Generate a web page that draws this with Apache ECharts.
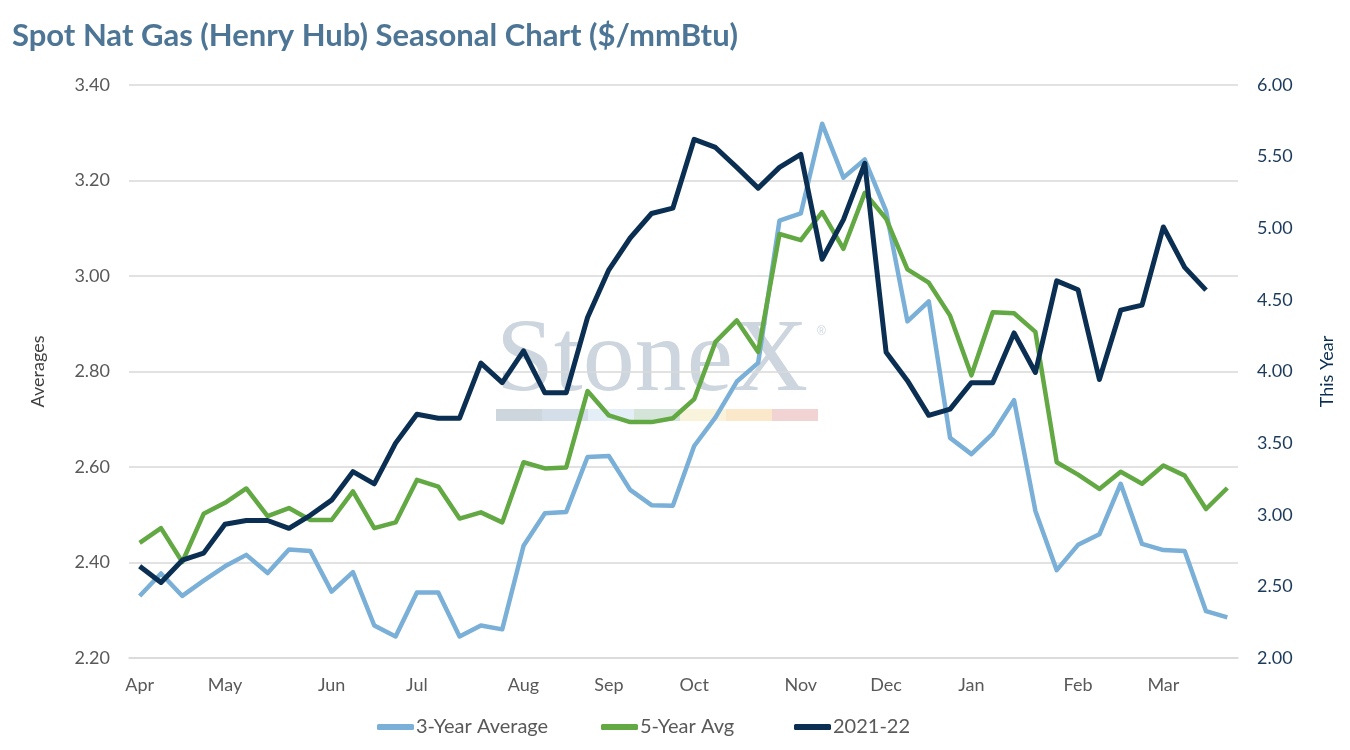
<!DOCTYPE html>
<html>
<head>
<meta charset="utf-8">
<title>Spot Nat Gas Seasonal Chart</title>
<script src="https://cdn.jsdelivr.net/npm/echarts@6/dist/echarts.min.js"></script>
<style>
  html, body { margin: 0; padding: 0; background: #fff; }
  #chart-div { width: 1350px; height: 750px; }
</style>
</head>
<body>
<div id="chart-div"></div>
<script>
// weekly points, season starting early April; only the first week of each month carries a label
const weeks = [
    'Apr', '', '', '', 'May', '', '', '', '', 'Jun', '', '', '', 'Jul', '', '', '', '', 'Aug', '', '', '',
    'Sep', '', '', '', 'Oct', '', '', '', '', 'Nov', '', '', '', 'Dec', '', '', '', 'Jan', '', '', '', '',
    'Feb', '', '', '', 'Mar', '', '', ''
]

const threeYear = [
    2.330, 2.377, 2.330, 2.362, 2.392, 2.416, 2.378, 2.427, 2.424, 2.339, 2.380, 2.268, 2.245,
    2.337, 2.337, 2.245, 2.268, 2.260, 2.435, 2.503, 2.506, 2.621, 2.623, 2.552, 2.520, 2.519,
    2.644, 2.704, 2.779, 2.818, 3.116, 3.131, 3.319, 3.206, 3.244, 3.136, 2.905, 2.947, 2.661,
    2.627, 2.670, 2.740, 2.508, 2.384, 2.437, 2.459, 2.565, 2.439, 2.426, 2.424, 2.298, 2.285
]

const fiveYear = [
    2.441, 2.472, 2.401, 2.502, 2.525, 2.555, 2.497, 2.514, 2.489, 2.489, 2.549, 2.472, 2.484,
    2.573, 2.559, 2.492, 2.505, 2.484, 2.610, 2.597, 2.599, 2.759, 2.708, 2.694, 2.694, 2.702,
    2.742, 2.862, 2.907, 2.841, 3.088, 3.075, 3.134, 3.057, 3.174, 3.120, 3.014, 2.986, 2.917,
    2.792, 2.924, 2.922, 2.883, 2.610, 2.584, 2.554, 2.590, 2.565, 2.603, 2.582, 2.512, 2.556
]

// 2021-22 season, right axis
const thisYear = [
    2.641, 2.527, 2.683, 2.732, 2.934, 2.960, 2.960, 2.905, 2.996, 3.102, 3.301, 3.216, 3.500,
    3.702, 3.674, 3.674, 4.058, 3.922, 4.144, 3.851, 3.851, 4.377, 4.710, 4.932, 5.103, 5.140,
    5.621, 5.564, 5.425, 5.280, 5.425, 5.516, 4.784, 5.060, 5.453, 4.135, 3.936, 3.694, 3.737,
    3.922, 3.922, 4.269, 3.993, 4.633, 4.571, 3.944, 4.428, 4.463, 5.009, 4.727, 4.568
]

const seriesNames = ['3-Year Average', '5-Year Avg', '2021-22']
const colors = ['#7aafd7', '#62a843', '#0b2f52']
const legendLeft = [372, 596, 789]

// watermark bar colours
const logoBar = ['#cdd5dd', '#d3dee9', '#e4eef6', '#d5e4d9', '#faf3dc', '#fbe8cb', '#f2d3d3']

const font = 'Lato, "Open Sans", sans-serif'

let myChart = echarts.init(document.getElementById('chart-div'))

// StoneX watermark behind the plot
let logo = [{
    type: 'text',
    left: 496,
    top: 311,
    z: -10,
    style: {
        text: 'StoneX',
        font: '104px "Liberation Serif", "DejaVu Serif", serif',
        fill: '#cdd5de'
    }
}, {
    type: 'text',
    left: 817,
    top: 326,
    z: -10,
    style: { text: '®', font: '12px "Liberation Sans", sans-serif', fill: '#cdd5de' }
}]
logoBar.forEach((c, i) => {
    logo.push({
        type: 'rect',
        z: -10,
        shape: { x: 496 + i * 46, y: 409, width: 46, height: 12 },
        style: { fill: c }
    })
})

// one legend per series so each entry sits where it does in the original
let legends = seriesNames.map((name, i) => ({
    data: [name],
    bottom: 8,
    left: legendLeft[i],
    itemWidth: 37,
    itemHeight: 6,
    icon: 'roundRect',
    textStyle: { color: '#595959', fontSize: 20, padding: [0, 0, 0, -3] }
}))

const option = {
    backgroundColor: '#fff',
    animation: false,
    textStyle: { fontFamily: font },
    title: {
        text: 'Spot Nat Gas (Henry Hub) Seasonal Chart ($/mmBtu)',
        left: 7,
        top: 15,
        textStyle: { color: '#4d7595', fontSize: 31, fontWeight: 'bold', fontFamily: font }
    },
    graphic: logo,
    legend: legends,
    grid: { left: 129, right: 112, top: 85, bottom: 92 },
    xAxis: {
        type: 'category',
        data: weeks,
        boundaryGap: true,
        axisLine: { lineStyle: { color: '#d9d9d9', width: 1.5 } },
        axisTick: { show: false },
        axisLabel: { interval: 0, color: '#595959', fontSize: 18, margin: 18 }
    },
    yAxis: [{
        type: 'value',
        name: 'Averages',
        nameLocation: 'middle',
        nameGap: 82,
        nameTextStyle: { color: '#404040', fontSize: 18 },
        min: 2.2,
        max: 3.4,
        interval: 0.2,
        axisLine: { show: false },
        axisTick: { show: false },
        splitLine: { lineStyle: { color: '#d9d9d9', width: 1.5 } },
        axisLabel: { color: '#595959', fontSize: 18, margin: 19, formatter: v => v.toFixed(2) }
    }, {
        type: 'value',
        name: 'This Year',
        nameLocation: 'middle',
        nameGap: 80,
        nameTextStyle: { color: '#0b2f52', fontSize: 18 },
        min: 2,
        max: 6,
        interval: 0.5,
        axisLine: { show: false },
        axisTick: { show: false },
        splitLine: { show: false },
        axisLabel: { color: '#1b3a5c', fontSize: 18, margin: 19, formatter: v => v.toFixed(2) }
    }],
    series: [{
        name: seriesNames[0],
        type: 'line',
        data: threeYear,
        yAxisIndex: 0,
        symbol: 'none',
        lineStyle: { color: colors[0], width: 4.5, join: 'round' },
        itemStyle: { color: colors[0] }
    }, {
        name: seriesNames[1],
        type: 'line',
        data: fiveYear,
        yAxisIndex: 0,
        symbol: 'none',
        lineStyle: { color: colors[1], width: 4.5, join: 'round' },
        itemStyle: { color: colors[1] }
    }, {
        name: seriesNames[2],
        type: 'line',
        data: thisYear,
        yAxisIndex: 1,
        symbol: 'none',
        lineStyle: { color: colors[2], width: 5, join: 'round' },
        itemStyle: { color: colors[2] }
    }]
}

myChart.setOption(option)
</script>
</body>
</html>
